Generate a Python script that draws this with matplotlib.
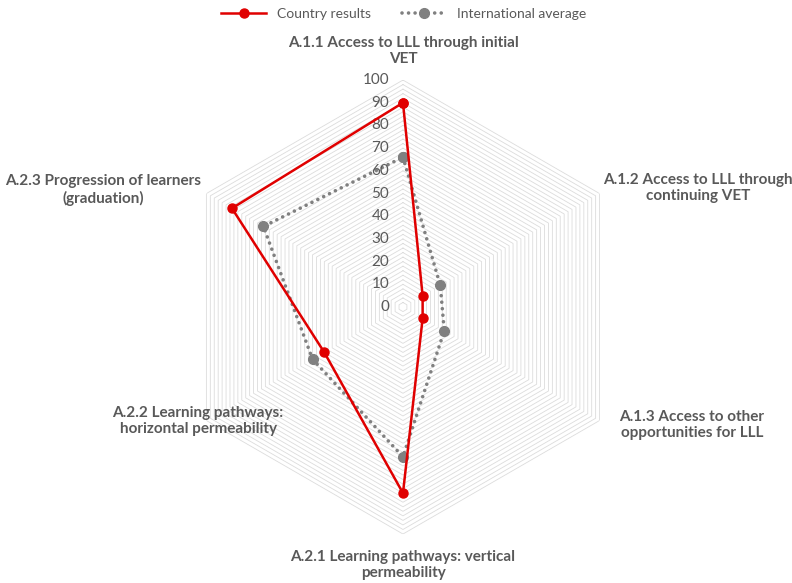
import numpy as np
import matplotlib.pyplot as plt

plt.rcParams['font.family'] = ['Lato', 'DejaVu Sans']

# Data
categories = ['A.1.1 Access to LLL through initial\nVET',
              'A.1.2 Access to LLL through\ncontinuing VET',
              'A.1.3 Access to other\nopportunities for LLL',
              'A.2.1 Learning pathways: vertical\npermeability',
              'A.2.2 Learning pathways:\nhorizontal permeability',
              'A.2.3 Progression of learners\n(graduation)']
country = [90, 10, 10, 82, 40, 87]
intl_avg = [66, 19, 21, 66, 46, 71]
r_ticks = list(range(0, 101, 10))

text_col = '#595959'
grid_col = '#dcdcdc'

fig = plt.figure(figsize=(7.92, 5.83), dpi=100)
ax = fig.add_axes([0.2222, 0.0840, 0.5732, 0.7787], projection='polar')
ax.set_theta_offset(np.pi / 2)
ax.set_theta_direction(-1)

n = len(categories)
angles = np.linspace(0, 2 * np.pi, n, endpoint=False)
closed = np.append(angles, angles[0])

# hexagonal gridlines
for r in range(2, 101, 2):
    ax.plot(closed, [r] * (n + 1), color=grid_col, lw=0.6, zorder=1)

ax.plot(closed, intl_avg + intl_avg[:1], color='#808080', lw=2.6, ls=(0, (0.01, 1.8)),
        marker='o', ms=7, dash_capstyle='round', zorder=3, label='International average')
ax.plot(closed, country + country[:1], color='#e00000', lw=1.8, marker='o', ms=6.5,
        zorder=4, label='Country results')

ax.set_ylim(0, 100)
ax.set_xticks([])
ax.set_yticks([])
ax.grid(False)
ax.spines['polar'].set_visible(False)
ax.patch.set_visible(False)

for v in r_ticks:
    ax.annotate(str(v), (0, v), xytext=(-10, 0), textcoords='offset points',
                ha='right', va='center', fontsize=11, color=text_col)

# category labels (pixel positions of label centres)
label_pos = [(403, 51), (698, 188), (692, 425), (403, 565), (198, 421), (103, 190)]
for lab, (px, py) in zip(categories, label_pos):
    fig.text(px / 792, 1 - py / 583, lab, ha='center', va='center',
             fontsize=11, fontweight='bold', color=text_col, linespacing=1.2)

handles, labels = ax.get_legend_handles_labels()
fig.legend(handles[::-1], labels[::-1], loc='center', bbox_to_anchor=(0.51, 1 - 14 / 583),
           ncol=2, frameon=False, fontsize=10, labelcolor=text_col,
           handlelength=3.2, columnspacing=2.2)

fig.savefig('out.png', dpi=100)
